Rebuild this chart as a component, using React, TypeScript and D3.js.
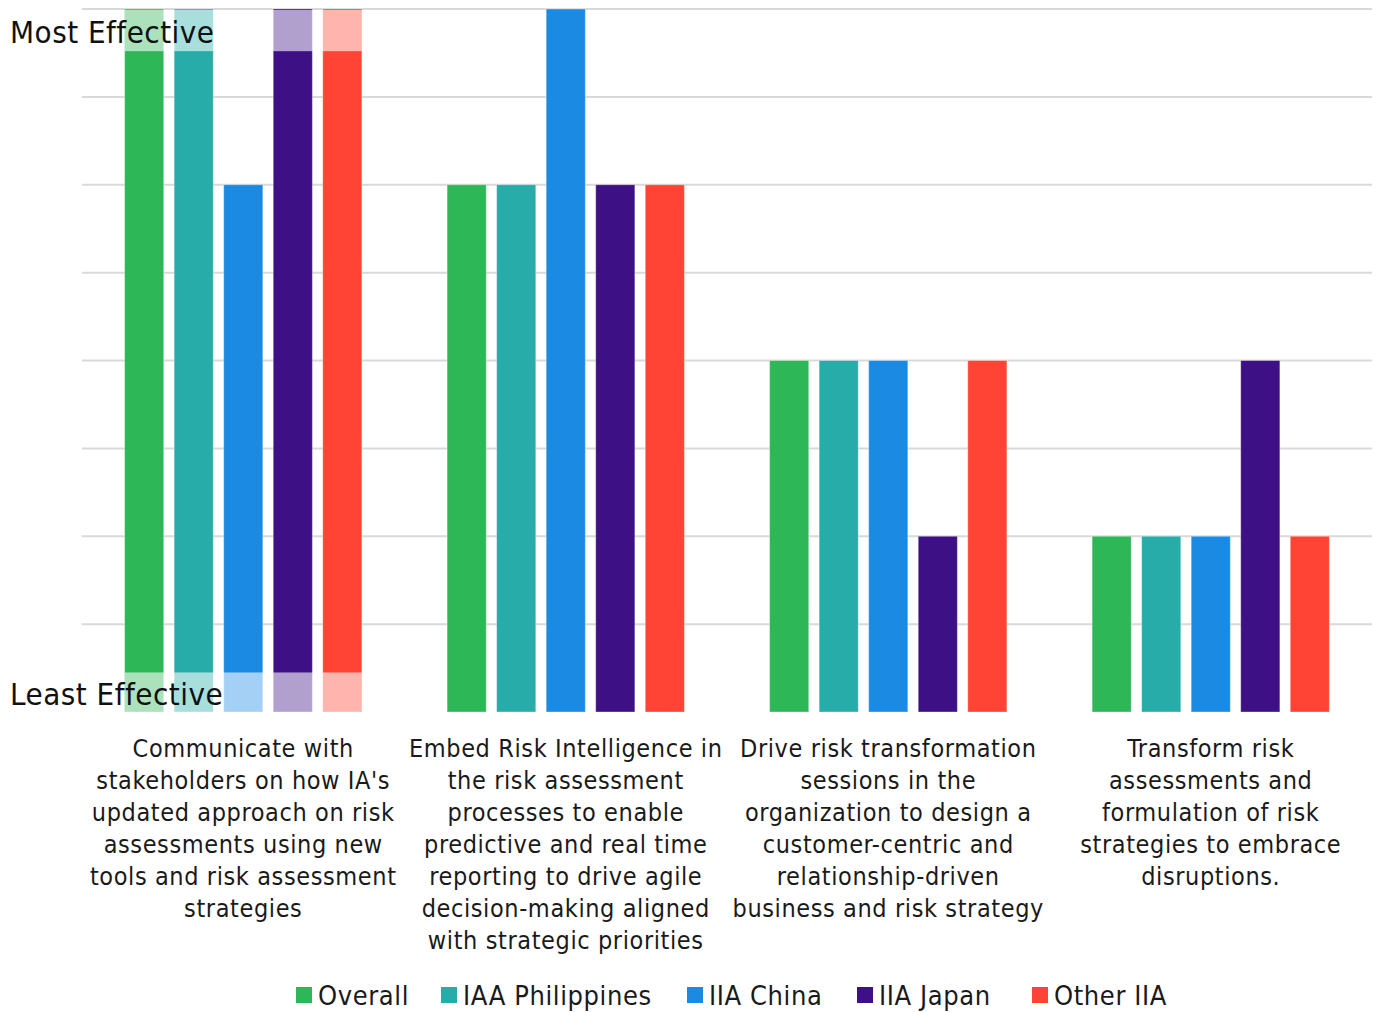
import React from "react";
import * as d3 from "d3";

const categories = [
  "Communicate with stakeholders on how IA's updated approach on risk assessments using new tools and risk assessment strategies",
  "Embed Risk Intelligence in the risk assessment processes to enable predictive and real time reporting to drive agile decision-making aligned with strategic priorities",
  "Drive risk transformation sessions in the organization to design a customer-centric and relationship-driven business and risk strategy",
  "Transform risk assessments and formulation of risk strategies to embrace disruptions.",
];
const categoryLines = [
  ["Communicate with", "stakeholders on how IA's", "updated approach on risk", "assessments using new", "tools and risk assessment", "strategies"],
  ["Embed Risk Intelligence in", "the risk assessment", "processes to enable", "predictive and real time", "reporting to drive agile", "decision-making aligned", "with strategic priorities"],
  ["Drive risk transformation", "sessions in the", "organization to design a", "customer-centric and", "relationship-driven", "business and risk strategy"],
  ["Transform risk", "assessments and", "formulation of risk", "strategies to embrace", "disruptions."],
];
const seriesNames = ["Overall", "IAA Philippines", "IIA China", "IIA Japan", "Other IIA"];
const seriesColors = ["#2db757", "#27aca9", "#1a8ae3", "#3e1085", "#ff4436"];
const overall = [8, 6, 4, 2];
const philippines = [8, 6, 4, 2];
const china = [6, 8, 4, 2];
const japan = [8, 6, 2, 4];
const otherIIA = [8, 6, 4, 2];
const seriesValues = [overall, philippines, china, japan, otherIIA];
const gridTicks = [1, 2, 3, 4, 5, 6, 7, 8];
const scaleLabels = ["Most Effective", "Least Effective"];

const FONT = "'DejaVu Sans Condensed', 'DejaVu Sans', sans-serif";

export default function App() {
  const W = 1378;
  const H = 1012;
  const left = 82;
  const right = 1372;
  const top = 9;
  const bottom = 712;

  const x0 = d3.scaleBand<number>().domain(d3.range(categories.length)).range([left, right]);
  const x1 = d3
    .scaleBand<number>()
    .domain(d3.range(seriesNames.length))
    .range([0, x0.bandwidth()])
    .paddingInner(0.21)
    .paddingOuter(0.86);
  const y = d3.scaleLinear().domain([0, 8]).range([bottom, top]);

  const g0 = x0(0)!;
  const hlX0 = g0 + x1(0)!;
  const hlX1 = g0 + x1(seriesNames.length - 1)! + x1.bandwidth();

  const legendX = [296, 441, 687, 857, 1032];

  return (
    <svg width={W} height={H} style={{ position: "absolute", left: 0, top: 0, background: "#fff" }}>
      {gridTicks.map((t) => (
        <line key={t} x1={left} x2={right} y1={y(t)} y2={y(t)} stroke="#d9d9d9" strokeWidth={2} />
      ))}
      {categories.map((c, ci) => (
        <g key={c} transform={`translate(${x0(ci)},0)`}>
          {seriesValues.map((vals, si) => (
            <rect
              key={si}
              x={x1(si)}
              width={x1.bandwidth()}
              y={y(vals[ci])}
              height={y(0) - y(vals[ci])}
              fill={seriesColors[si]}
              stroke="#fff"
              strokeOpacity={0.35}
              strokeWidth={1}
            />
          ))}
          <text
            x={x0.bandwidth() / 2}
            y={757}
            textAnchor="middle"
            fontFamily={FONT}
            fontSize={25}
            letterSpacing={0.6}
            fill="#1a1a1a"
          >
            {categoryLines[ci].map((ln, li) => (
              <tspan key={li} x={x0.bandwidth() / 2} dy={li === 0 ? 0 : 32}>
                {ln}
              </tspan>
            ))}
          </text>
        </g>
      ))}
      {/* translucent bands marking the ends of the scale */}
      <rect x={hlX0} y={y(8) + 1} width={hlX1 - hlX0} height={y(7.52) - y(8) - 1} fill="#fff" opacity={0.6} />
      <rect x={hlX0} y={y(0.45)} width={hlX1 - hlX0} height={y(0) - y(0.45)} fill="#fff" opacity={0.6} />
      <text x={10} y={43} fontFamily={FONT} fontSize={31} letterSpacing={0.5} fill="#111">
        {scaleLabels[0]}
      </text>
      <text x={10} y={705} fontFamily={FONT} fontSize={31} letterSpacing={0.5} fill="#111">
        {scaleLabels[1]}
      </text>
      {seriesNames.map((s, i) => (
        <g key={s} transform={`translate(${legendX[i]},0)`}>
          <rect x={0} y={987} width={16} height={16} fill={seriesColors[i]} />
          <text x={22} y={1005} fontFamily={FONT} fontSize={27} letterSpacing={0.6} fill="#1a1a1a">
            {s}
          </text>
        </g>
      ))}
    </svg>
  );
}
